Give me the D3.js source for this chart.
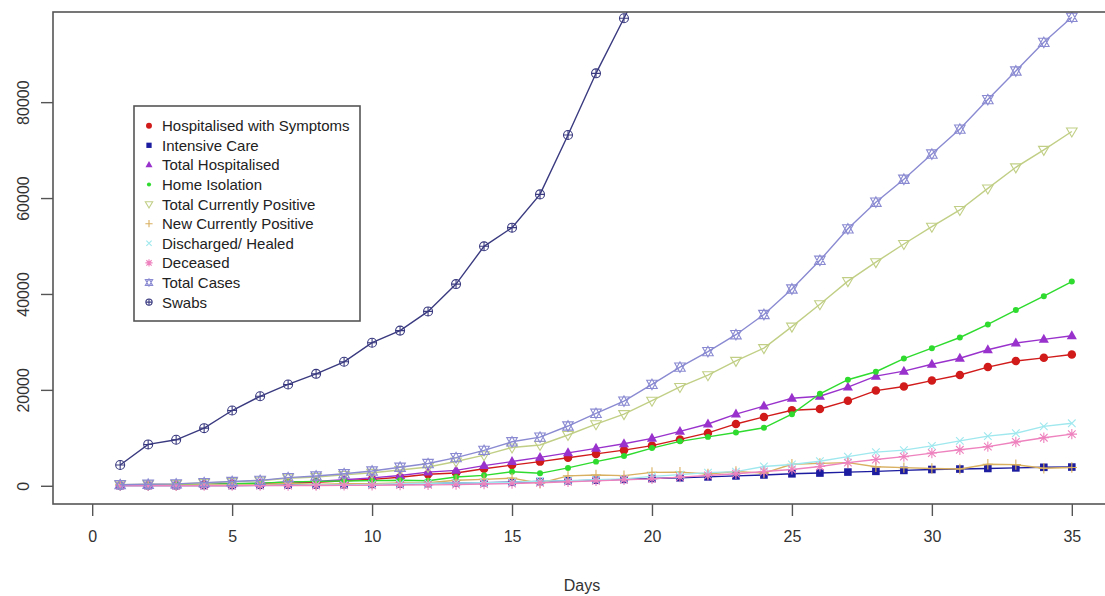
<!DOCTYPE html>
<html>
<head>
<meta charset="utf-8">
<script src="https://cdn.jsdelivr.net/npm/d3@7/dist/d3.min.js"></script>
<style>
  html, body { margin: 0; padding: 0; background: #fff; }
  svg { display: block; font-family: "Liberation Sans", Arial, sans-serif; }
</style>
</head>
<body>
<svg id="chart" width="1105" height="596"></svg>
<script>
// Italian COVID-19 daily figures, day 1 = 24 Feb 2020
const days = d3.range(1, 36);

const hospitalisedWithSymptoms = [101,114,128,248,345,401,639,742,1034,1346,1790,2394,2651,3557,4316,5038,5838,6650,7426,8372,9663,11025,12894,14363,15757,16020,17708,19846,20692,21937,23112,24753,26029,26676,27386];
const intensiveCare = [26,35,36,56,64,105,140,166,229,295,351,462,567,650,733,877,1028,1153,1328,1518,1672,1851,2060,2257,2498,2655,2857,3009,3204,3396,3489,3612,3732,3856,3906];
const totalHospitalised = [127,150,164,304,409,506,779,908,1263,1641,2141,2856,3218,4207,5049,5915,6866,7803,8754,9890,11335,12876,14954,16620,18255,18675,20565,22855,23896,25333,26601,28365,29761,30532,31292];
const homeIsolation = [94,162,221,284,412,543,798,927,1000,1065,1155,1060,1843,2180,2936,2599,3724,5036,6201,7860,9268,10197,11108,12090,14935,19185,22116,23783,26522,28697,30920,33648,36653,39533,42588];
const totalCurrentlyPositive = [221,311,385,588,821,1049,1577,1835,2263,2706,3296,3916,5061,6387,7985,8514,10590,12839,14955,17750,20603,23073,26062,28710,33190,37860,42681,46638,50418,54030,57521,62013,66414,70065,73880];
const newCurrentlyPositive = [221,90,74,203,233,228,528,258,428,443,590,620,1145,1326,1598,529,2076,2249,2116,2795,2853,2470,2989,2648,4480,4670,4821,3957,3780,3612,3491,4492,4401,3651,3815];
const dischargedHealed = [1,1,3,45,46,50,83,149,160,276,414,523,589,622,724,1004,1045,1258,1439,1966,2335,2749,2941,4025,4440,5129,6072,7024,7432,8326,9362,10361,10950,12384,13030];
const deceased = [7,10,12,17,21,29,34,52,79,107,148,197,233,366,463,631,827,1016,1266,1441,1809,2158,2503,2978,3405,4032,4825,5476,6077,6820,7503,8165,9134,10023,10779];
const totalCases = [229,322,400,650,888,1128,1694,2036,2502,3089,3858,4636,5883,7375,9172,10149,12462,15113,17660,21157,24747,27980,31506,35713,41035,47021,53578,59138,63927,69176,74386,80539,86498,92472,97689];
const swabs = [4324,8623,9587,12014,15695,18661,21127,23345,25856,29837,32362,36359,42062,49937,53826,60761,73154,86011,97488,109170,124899,137962,148657,165541,182777,206886,233222,258402,275468,296964,324445,361060,394079,429526,454030];

const seriesNames = ["Hospitalised with Symptoms","Intensive Care","Total Hospitalised","Home Isolation","Total Currently Positive","New Currently Positive","Discharged/ Healed","Deceased","Total Cases","Swabs"];
const seriesValues = [hospitalisedWithSymptoms,intensiveCare,totalHospitalised,homeIsolation,totalCurrentlyPositive,newCurrentlyPositive,dischargedHealed,deceased,totalCases,swabs];
const seriesColors = ["#d11a1a","#1c1ca0","#9932cc","#2edb2e","#c0cf85","#d8b060","#9fe8ee","#ee82be","#8a8ad2","#3a3a80"];
const seriesShapes = ["circle","square","triUp","dot","triDown","plus","cross","asterisk","star","circlePlus"];

const xTicks = [0,5,10,15,20,25,30,35];
const yTicks = [0,20000,40000,60000,80000];

// plot region (R-style with 4% padding around the axis limits)
const plotLeft = 53, plotTop = 12, plotBottom = 504;
const xLim = [0, 35], yLim = [0, 95000];
const xPad = (xLim[1] - xLim[0]) * 0.04, yPad = (yLim[1] - yLim[0]) * 0.04;
const x = d3.scaleLinear().domain([xLim[0] - xPad, xLim[1] + xPad]).range([plotLeft, plotLeft + 1058]);
const y = d3.scaleLinear().domain([yLim[0] - yPad, yLim[1] + yPad]).range([plotBottom, plotTop]);
const plotRight = x.range()[1];

const svg = d3.select("#chart");

svg.append("defs").append("clipPath").attr("id", "plotClip")
  .append("rect").attr("x", plotLeft).attr("y", plotTop)
  .attr("width", plotRight - plotLeft).attr("height", plotBottom - plotTop);

// marker drawing, loosely following R's plotting characters
function drawMarker(g, shape, color, s) {
  const sw = 1.1;
  switch (shape) {
    case "circle":
      g.append("circle").attr("r", 3.7 * s).attr("fill", color); break;
    case "square":
      g.append("rect").attr("x", -3.3 * s).attr("y", -3.3 * s)
        .attr("width", 6.6 * s).attr("height", 6.6 * s).attr("fill", color); break;
    case "triUp":
      g.append("path").attr("d", `M0,${-4.8*s}L${4.4*s},${3*s}L${-4.4*s},${3*s}Z`).attr("fill", color); break;
    case "dot":
      g.append("circle").attr("r", 2.6 * s).attr("fill", color); break;
    case "triDown":
      g.append("path").attr("d", `M${-4.6*s},${-3*s}L${4.6*s},${-3*s}L0,${4.8*s}Z`)
        .attr("fill", "none").attr("stroke", color).attr("stroke-width", sw); break;
    case "plus":
      g.append("path").attr("d", `M${-4.5*s},0H${4.5*s}M0,${-4.5*s}V${4.5*s}`)
        .attr("stroke", color).attr("stroke-width", sw); break;
    case "cross":
      g.append("path").attr("d", `M${-3.3*s},${-3.3*s}L${3.3*s},${3.3*s}M${-3.3*s},${3.3*s}L${3.3*s},${-3.3*s}`)
        .attr("stroke", color).attr("stroke-width", sw); break;
    case "asterisk":
      g.append("path").attr("d", `M${-4.5*s},0H${4.5*s}M0,${-4.5*s}V${4.5*s}M${-3.3*s},${-3.3*s}L${3.3*s},${3.3*s}M${-3.3*s},${3.3*s}L${3.3*s},${-3.3*s}`)
        .attr("stroke", color).attr("stroke-width", sw); break;
    case "star":
      g.append("path").attr("d", `M${-4.6*s},${-3.6*s}L${4.6*s},${-3.6*s}L0,${4.6*s}ZM${-4.6*s},${3.6*s}L${4.6*s},${3.6*s}L0,${-4.6*s}Z`)
        .attr("fill", "none").attr("stroke", color).attr("stroke-width", sw); break;
    case "circlePlus":
      g.append("circle").attr("r", 3.9 * s).attr("fill", "none").attr("stroke", color).attr("stroke-width", sw);
      g.append("path").attr("d", `M${-3.9*s},0H${3.9*s}M0,${-3.9*s}V${3.9*s}`)
        .attr("stroke", color).attr("stroke-width", sw); break;
  }
}

// series: line plus markers, clipped to the plot region
const plot = svg.append("g").attr("clip-path", "url(#plotClip)");
const line = d3.line().x((d, i) => x(days[i])).y(d => y(d));

seriesValues.forEach((vals, k) => {
  const g = plot.append("g");
  g.append("path").datum(vals).attr("d", line)
    .attr("fill", "none").attr("stroke", seriesColors[k]).attr("stroke-width", 1.4);
  g.selectAll("g.pt").data(vals).join("g").attr("class", "pt")
    .attr("transform", (d, i) => `translate(${x(days[i])},${y(d)})`)
    .each(function () { drawMarker(d3.select(this), seriesShapes[k], seriesColors[k], 1.15); });
});

// frame
svg.append("rect").attr("x", plotLeft).attr("y", plotTop)
  .attr("width", plotRight - plotLeft).attr("height", plotBottom - plotTop)
  .attr("fill", "none").attr("stroke", "#555").attr("stroke-width", 1.6);

// axes
const axisColor = "#555";
const xAxis = svg.append("g").attr("transform", `translate(0,${plotBottom})`)
  .call(d3.axisBottom(x).tickValues(xTicks).tickSize(12).tickSizeOuter(0).tickFormat(d3.format("d")));
xAxis.select(".domain").remove();
xAxis.selectAll(".tick line").attr("stroke", axisColor).attr("stroke-width", 1.4);
xAxis.selectAll(".tick text").attr("y", 38).attr("dy", 0)
  .attr("font-size", 16).attr("fill", "#333").attr("font-family", "Liberation Sans, Arial, sans-serif");

const yAxis = svg.append("g").attr("transform", `translate(${plotLeft},0)`)
  .call(d3.axisLeft(y).tickValues(yTicks).tickSize(12).tickSizeOuter(0).tickFormat(d3.format("d")));
yAxis.select(".domain").remove();
yAxis.selectAll(".tick line").attr("stroke", axisColor).attr("stroke-width", 1.4);
yAxis.selectAll(".tick text")
  .attr("x", null).attr("dy", 0)
  .attr("transform", "translate(-24,0) rotate(-90)")
  .attr("text-anchor", "middle")
  .attr("font-size", 16).attr("fill", "#333").attr("font-family", "Liberation Sans, Arial, sans-serif");

svg.append("text").attr("x", (plotLeft + plotRight) / 2).attr("y", 591)
  .attr("text-anchor", "middle").attr("font-size", 16).attr("fill", "#333")
  .text("Days");

// legend
const legend = svg.append("g");
legend.append("rect").attr("x", 134).attr("y", 106).attr("width", 226).attr("height", 215)
  .attr("fill", "#fff").attr("stroke", "#555").attr("stroke-width", 1.6);
seriesNames.forEach((name, k) => {
  const yy = 125.7 + k * 19.6;
  const m = legend.append("g").attr("transform", `translate(149,${yy})`);
  drawMarker(m, seriesShapes[k], seriesColors[k], 0.8);
  legend.append("text").attr("x", 162).attr("y", yy).attr("dy", "0.36em")
    .attr("font-size", 15).attr("fill", "#222").text(name);
});
</script>
</body>
</html>
